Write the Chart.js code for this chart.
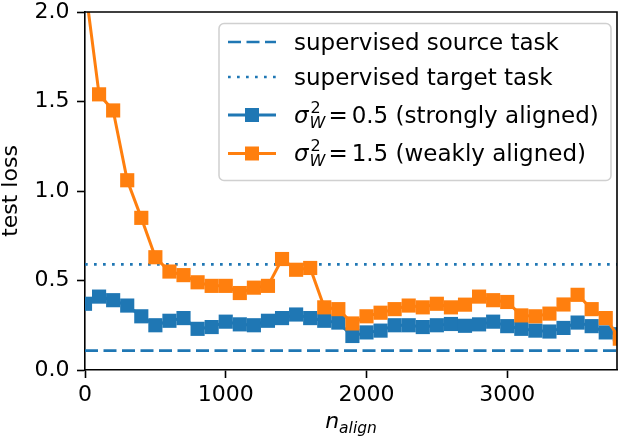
<!DOCTYPE html>
<html>
<head>
<meta charset="utf-8">
<script src="https://cdn.jsdelivr.net/npm/chart.js@4"></script>
<style>
  body { margin: 0; background: #fff; }
  canvas { display: block; }
</style>
</head>
<body>
<canvas id="lossChart" width="622" height="440"></canvas>
<script>
// x positions (n_align) of the measured points
const nAlign = [0, 100, 200, 300, 400, 500, 600, 700, 800, 900,
    1000, 1100, 1200, 1300, 1400, 1500, 1600, 1700, 1800, 1900,
    2000, 2100, 2200, 2300, 2400, 2500, 2600, 2700, 2800, 2900,
    3000, 3100, 3200, 3300, 3400, 3500, 3600, 3700, 3800];

// sigma_W^2 = 0.5 (strongly aligned)
const strongLoss = [0.37, 0.41, 0.39, 0.36, 0.30, 0.25, 0.275, 0.29, 0.23, 0.24,
    0.27, 0.255, 0.25, 0.275, 0.29, 0.31, 0.29, 0.275, 0.265, 0.19,
    0.21, 0.22, 0.25, 0.25, 0.24, 0.25, 0.257, 0.247, 0.255, 0.27,
    0.245, 0.23, 0.22, 0.215, 0.235, 0.265, 0.245, 0.21, 0.20];

// sigma_W^2 = 1.5 (weakly aligned)
const weakLoss = [2.15, 1.54, 1.45, 1.06, 0.85, 0.63, 0.55, 0.53, 0.49, 0.47,
    0.47, 0.43, 0.46, 0.47, 0.62, 0.56, 0.57, 0.35, 0.34, 0.26,
    0.30, 0.32, 0.34, 0.36, 0.35, 0.37, 0.35, 0.365, 0.41, 0.39,
    0.38, 0.305, 0.30, 0.315, 0.366, 0.42, 0.34, 0.29, 0.175];

// reference levels
const sourceTaskLoss = 0.108;
const targetTaskLoss = 0.59;

const xRange = [0, 3780];
const yRange = [0, 2.0];
const xTicks = [0, 1000, 2000, 3000];
const yTicks = [0.0, 0.5, 1.0, 1.5, 2.0];

const BLUE = '#1f77b4';
const ORANGE = '#ff7f0e';
const FONT = "'DejaVu Sans', sans-serif";

/**
 * Pair x and y arrays into {x, y} points.
 */
function toPoints(xs, ys) {
    const points = [];
    for (let i = 0; i < xs.length; i++) {
        points.push({ x: xs[i], y: ys[i] });
    }
    return points;
}

/**
 * Horizontal line over the whole x range.
 */
function levelLine(value) {
    return [{ x: xRange[0], y: value }, { x: xRange[1], y: value }];
}

// top and right spines
const framePlugin = {
    id: 'frame',
    afterDraw(chart) {
        const { ctx, chartArea: a } = chart;
        ctx.save();
        ctx.strokeStyle = '#000';
        ctx.lineWidth = 1.6;
        ctx.beginPath();
        ctx.moveTo(a.left, a.top);
        ctx.lineTo(a.right, a.top);
        ctx.lineTo(a.right, a.bottom);
        ctx.stroke();
        ctx.restore();
    }
};

// x axis title with subscript: n_align
const xTitlePlugin = {
    id: 'xTitle',
    afterDraw(chart) {
        const { ctx, chartArea: a } = chart;
        ctx.save();
        ctx.fillStyle = '#000';
        ctx.textBaseline = 'alphabetic';
        ctx.font = 'italic 22px ' + FONT;
        const wn = ctx.measureText('n').width;
        ctx.font = 'italic 15.5px ' + FONT;
        const ws = ctx.measureText('align').width;
        const x0 = (a.left + a.right) / 2 - (wn + ws) / 2;
        ctx.font = 'italic 22px ' + FONT;
        ctx.fillText('n', x0, 428);
        ctx.font = 'italic 15.5px ' + FONT;
        ctx.fillText('align', x0 + wn, 433);
        ctx.restore();
    }
};

/**
 * Write sigma_W^2 = value (note) starting at x on baseline y.
 */
function drawSigmaLabel(ctx, x, y, value, note) {
    ctx.font = 'italic 23px ' + FONT;
    ctx.fillText('σ', x, y);
    x += ctx.measureText('σ').width + 1;
    ctx.font = '16px ' + FONT;
    ctx.fillText('2', x + 1, y - 10);
    ctx.font = 'italic 16px ' + FONT;
    ctx.fillText('W', x, y + 5);
    x += ctx.measureText('W').width + 3;
    ctx.font = '23px ' + FONT;
    ctx.fillText('=', x, y);
    x += ctx.measureText('=').width + 4;
    ctx.fillText(value + ' (' + note + ')', x, y);
}

// legend box in the upper right
const legendPlugin = {
    id: 'boxLegend',
    afterDraw(chart) {
        const ctx = chart.ctx;
        const box = { left: 219, top: 23.5, right: 611, bottom: 180.5 };
        const rows = [42, 77, 115, 153.5];
        const hx0 = 228, hx1 = 276, tx = 294;
        ctx.save();
        ctx.beginPath();
        ctx.roundRect(box.left, box.top, box.right - box.left, box.bottom - box.top, 5);
        ctx.fillStyle = 'rgba(255,255,255,0.8)';
        ctx.fill();
        ctx.strokeStyle = '#d0d0d0';
        ctx.lineWidth = 1.5;
        ctx.stroke();

        const handles = [
            { color: BLUE, dash: [13, 5.5], marker: false },
            { color: BLUE, dash: [2.7, 6.3], marker: false },
            { color: BLUE, dash: [], marker: true },
            { color: ORANGE, dash: [], marker: true }
        ];
        handles.forEach((h, i) => {
            ctx.beginPath();
            ctx.setLineDash(h.dash);
            ctx.strokeStyle = h.color;
            ctx.lineWidth = h.marker ? 3 : 2.7;
            ctx.moveTo(hx0, rows[i]);
            ctx.lineTo(hx1, rows[i]);
            ctx.stroke();
            if (h.marker) {
                ctx.fillStyle = h.color;
                ctx.fillRect((hx0 + hx1) / 2 - 7, rows[i] - 7, 14, 14);
            }
        });
        ctx.setLineDash([]);

        ctx.fillStyle = '#000';
        ctx.textBaseline = 'alphabetic';
        ctx.font = '23px ' + FONT;
        ctx.fillText('supervised source task', tx, rows[0] + 7.5);
        ctx.fillText('supervised target task', tx, rows[1] + 7.5);
        drawSigmaLabel(ctx, tx, rows[2] + 7.5, '0.5', 'strongly aligned');
        drawSigmaLabel(ctx, tx, rows[3] + 7.5, '1.5', 'weakly aligned');
        ctx.restore();
    }
};

function showLossChart() {
    const ctx = document.getElementById('lossChart');
    const lossChart = new Chart(ctx, {
        type: 'line',
        data: {
            datasets: [{
                label: 'supervised source task',
                data: levelLine(sourceTaskLoss),
                borderColor: BLUE,
                borderWidth: 2.7,
                borderDash: [13, 5.5],
                pointRadius: 0,
                order: 4
            }, {
                label: 'supervised target task',
                data: levelLine(targetTaskLoss),
                borderColor: BLUE,
                borderWidth: 2.7,
                borderDash: [2.7, 6.3],
                pointRadius: 0,
                order: 3
            }, {
                label: 'sigma_W^2 = 0.5 (strongly aligned)',
                data: toPoints(nAlign, strongLoss),
                borderColor: BLUE,
                backgroundColor: BLUE,
                borderWidth: 3,
                pointStyle: 'rect',
                pointRadius: 10,
                pointBorderWidth: 0,
                tension: 0,
                order: 2
            }, {
                label: 'sigma_W^2 = 1.5 (weakly aligned)',
                data: toPoints(nAlign, weakLoss),
                borderColor: ORANGE,
                backgroundColor: ORANGE,
                borderWidth: 3,
                pointStyle: 'rect',
                pointRadius: 10,
                pointBorderWidth: 0,
                tension: 0,
                order: 1
            }]
        },
        options: {
            responsive: false,
            animation: false,
            devicePixelRatio: 1,
            layout: {
                autoPadding: false,
                padding: { top: 12, right: 5, left: 0, bottom: 0 }
            },
            plugins: {
                legend: { display: false },
                tooltip: { enabled: false }
            },
            scales: {
                x: {
                    type: 'linear',
                    min: xRange[0],
                    max: xRange[1],
                    afterFit: (scale) => {
                        scale.height = 70;
                        scale.paddingLeft = 0;
                        scale.paddingRight = 0;
                    },
                    afterBuildTicks: (scale) => {
                        scale.ticks = xTicks.map(v => ({ value: v }));
                    },
                    border: { display: true, color: '#000', width: 1.6 },
                    grid: {
                        drawOnChartArea: false,
                        drawTicks: true,
                        tickLength: 8,
                        tickColor: '#000',
                        tickWidth: 1.6
                    },
                    ticks: {
                        color: '#000',
                        padding: 4,
                        maxRotation: 0,
                        font: { family: FONT, size: 22 },
                        callback: (v) => String(v)
                    }
                },
                y: {
                    type: 'linear',
                    min: yRange[0],
                    max: yRange[1],
                    afterFit: (scale) => {
                        scale.width = 85;
                        scale.paddingTop = 0;
                        scale.paddingBottom = 0;
                    },
                    afterBuildTicks: (scale) => {
                        scale.ticks = yTicks.map(v => ({ value: v }));
                    },
                    border: { display: true, color: '#000', width: 1.6 },
                    grid: {
                        drawOnChartArea: false,
                        drawTicks: true,
                        tickLength: 8,
                        tickColor: '#000',
                        tickWidth: 1.6
                    },
                    ticks: {
                        color: '#000',
                        padding: 7.5,
                        font: { family: FONT, size: 22 },
                        callback: (v) => v.toFixed(1)
                    },
                    title: {
                        display: true,
                        text: 'test loss',
                        color: '#000',
                        padding: { top: -2, bottom: 0 },
                        font: { family: FONT, size: 22 }
                    }
                }
            }
        },
        plugins: [framePlugin, xTitlePlugin, legendPlugin]
    });
    return lossChart;
}

showLossChart();
</script>
</body>
</html>
